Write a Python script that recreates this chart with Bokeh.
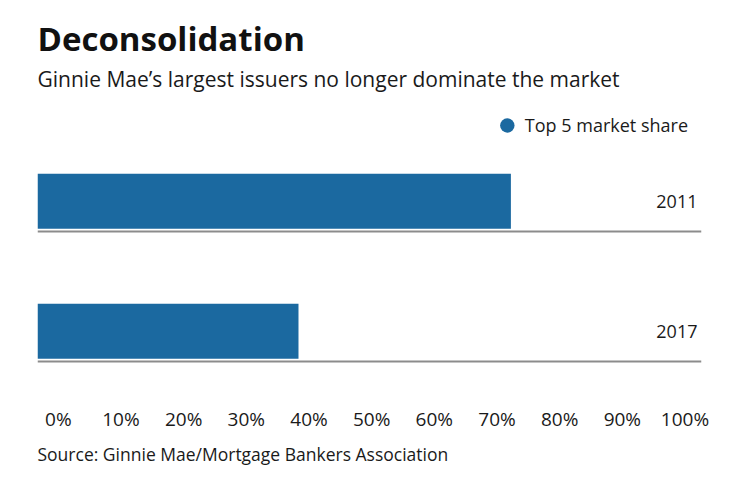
from bokeh.plotting import figure
from bokeh.models import (ColumnDataSource, Range1d, FixedTicker, Title, Legend,
                          LegendItem, LinearAxis)
from bokeh.embed import file_html
from bokeh.resources import INLINE
from bokeh.core.properties import value

# ---- data ----
years = ["2011", "2017"]
share = [76.0, 41.9]          # top 5 issuers' market share, %
tick_values = [0, 10, 20, 30, 40, 50, 60, 70, 80, 90, 100]
tick_labels = ["0%", "10%", "20%", "30%", "40%", "50%", "60%", "70%", "80%", "90%", "100%"]
series_name = "Top 5 market share"
title_text = "Deconsolidation"
subtitle_text = "Ginnie Mae\u2019s largest issuers no longer dominate the market"
source_text = "Source: Ginnie Mae/Mortgage Bankers Association"

BLUE = "#1b69a0"
FONT = "Open Sans"
TXT = "#1a1a1a"

n = len(years)
pos = [n - 1 - i for i in range(n)]          # first category on top
src = ColumnDataSource(dict(year=years, share=share, pos=pos))

X_END = 106.6
p = figure(width=732, height=474,
           x_range=Range1d(0, X_END), y_range=Range1d(-0.502, 1.821),
           x_axis_location=None, y_axis_location=None,
           output_backend="svg", toolbar_location=None,
           min_border_left=37, min_border_right=31,
           min_border_top=94, min_border_bottom=78,
           outline_line_color=None, background_fill_color="white",
           border_fill_color="white")

# titles: p.title is outermost, added titles sit closer to the frame
p.title.text = title_text
p.title.text_font = FONT
p.title.text_font_size = "33px"
p.title.text_font_style = "bold"
p.title.text_color = "#111111"
p.title.align = "left"
p.title.standoff = 0
p.add_layout(Title(text=subtitle_text, text_font=FONT, text_font_size="21px",
                   text_font_style="normal", text_color=TXT, align="left",
                   standoff=4), "above")

# bars
p.hbar(y="pos", right="share", left=0, height=0.423, source=src,
       fill_color=BLUE, line_color=None)

# legend marker (drawn only in the legend)
leg_r = p.scatter(x="share", y="pos", source=src, size=0, marker="circle",
                  fill_color=BLUE, line_color=None)
legend = Legend(items=[LegendItem(label=series_name, renderers=[leg_r])],
                location="top_right", glyph_width=36, glyph_height=36,
                label_standoff=-6, label_text_font=FONT, label_text_font_size="18px",
                label_text_color=TXT, border_line_alpha=0,
                background_fill_alpha=0, padding=0, margin=13, spacing=0)
p.add_layout(legend)

# year labels at the right end
p.text(x=X_END, y="pos", text="year", source=src, x_offset=-4,
       text_align="right", text_baseline="middle",
       text_font=value(FONT), text_font_size="18px", text_color=TXT)

# gray rule under each bar (y grid)
p.ygrid.ticker = FixedTicker(ticks=[v - 0.233 for v in pos])
p.ygrid.grid_line_color = "#8c8c8c"
p.ygrid.grid_line_width = 2
p.xgrid.grid_line_color = None

# percentage axis (labels spread like the original)
p.extra_x_ranges = {"ticks": Range1d(-3.32, 102.63)}
ax = LinearAxis(x_range_name="ticks", ticker=FixedTicker(ticks=tick_values))
ax.major_label_overrides = {v: l for v, l in zip(tick_values, tick_labels)}
ax.axis_line_color = None
ax.major_tick_line_color = None
ax.minor_tick_line_color = None
ax.major_tick_out = 0
ax.major_tick_in = 0
ax.major_label_standoff = 9
ax.major_label_text_font = FONT
ax.major_label_text_font_size = "19px"
ax.major_label_text_color = TXT
p.add_layout(ax, "below")

p.add_layout(Title(text=source_text, text_font=FONT, text_font_size="17.5px",
                   text_font_style="normal", text_color=TXT, align="left",
                   standoff=11), "below")

open("out.html", "w").write(file_html(p, INLINE))
